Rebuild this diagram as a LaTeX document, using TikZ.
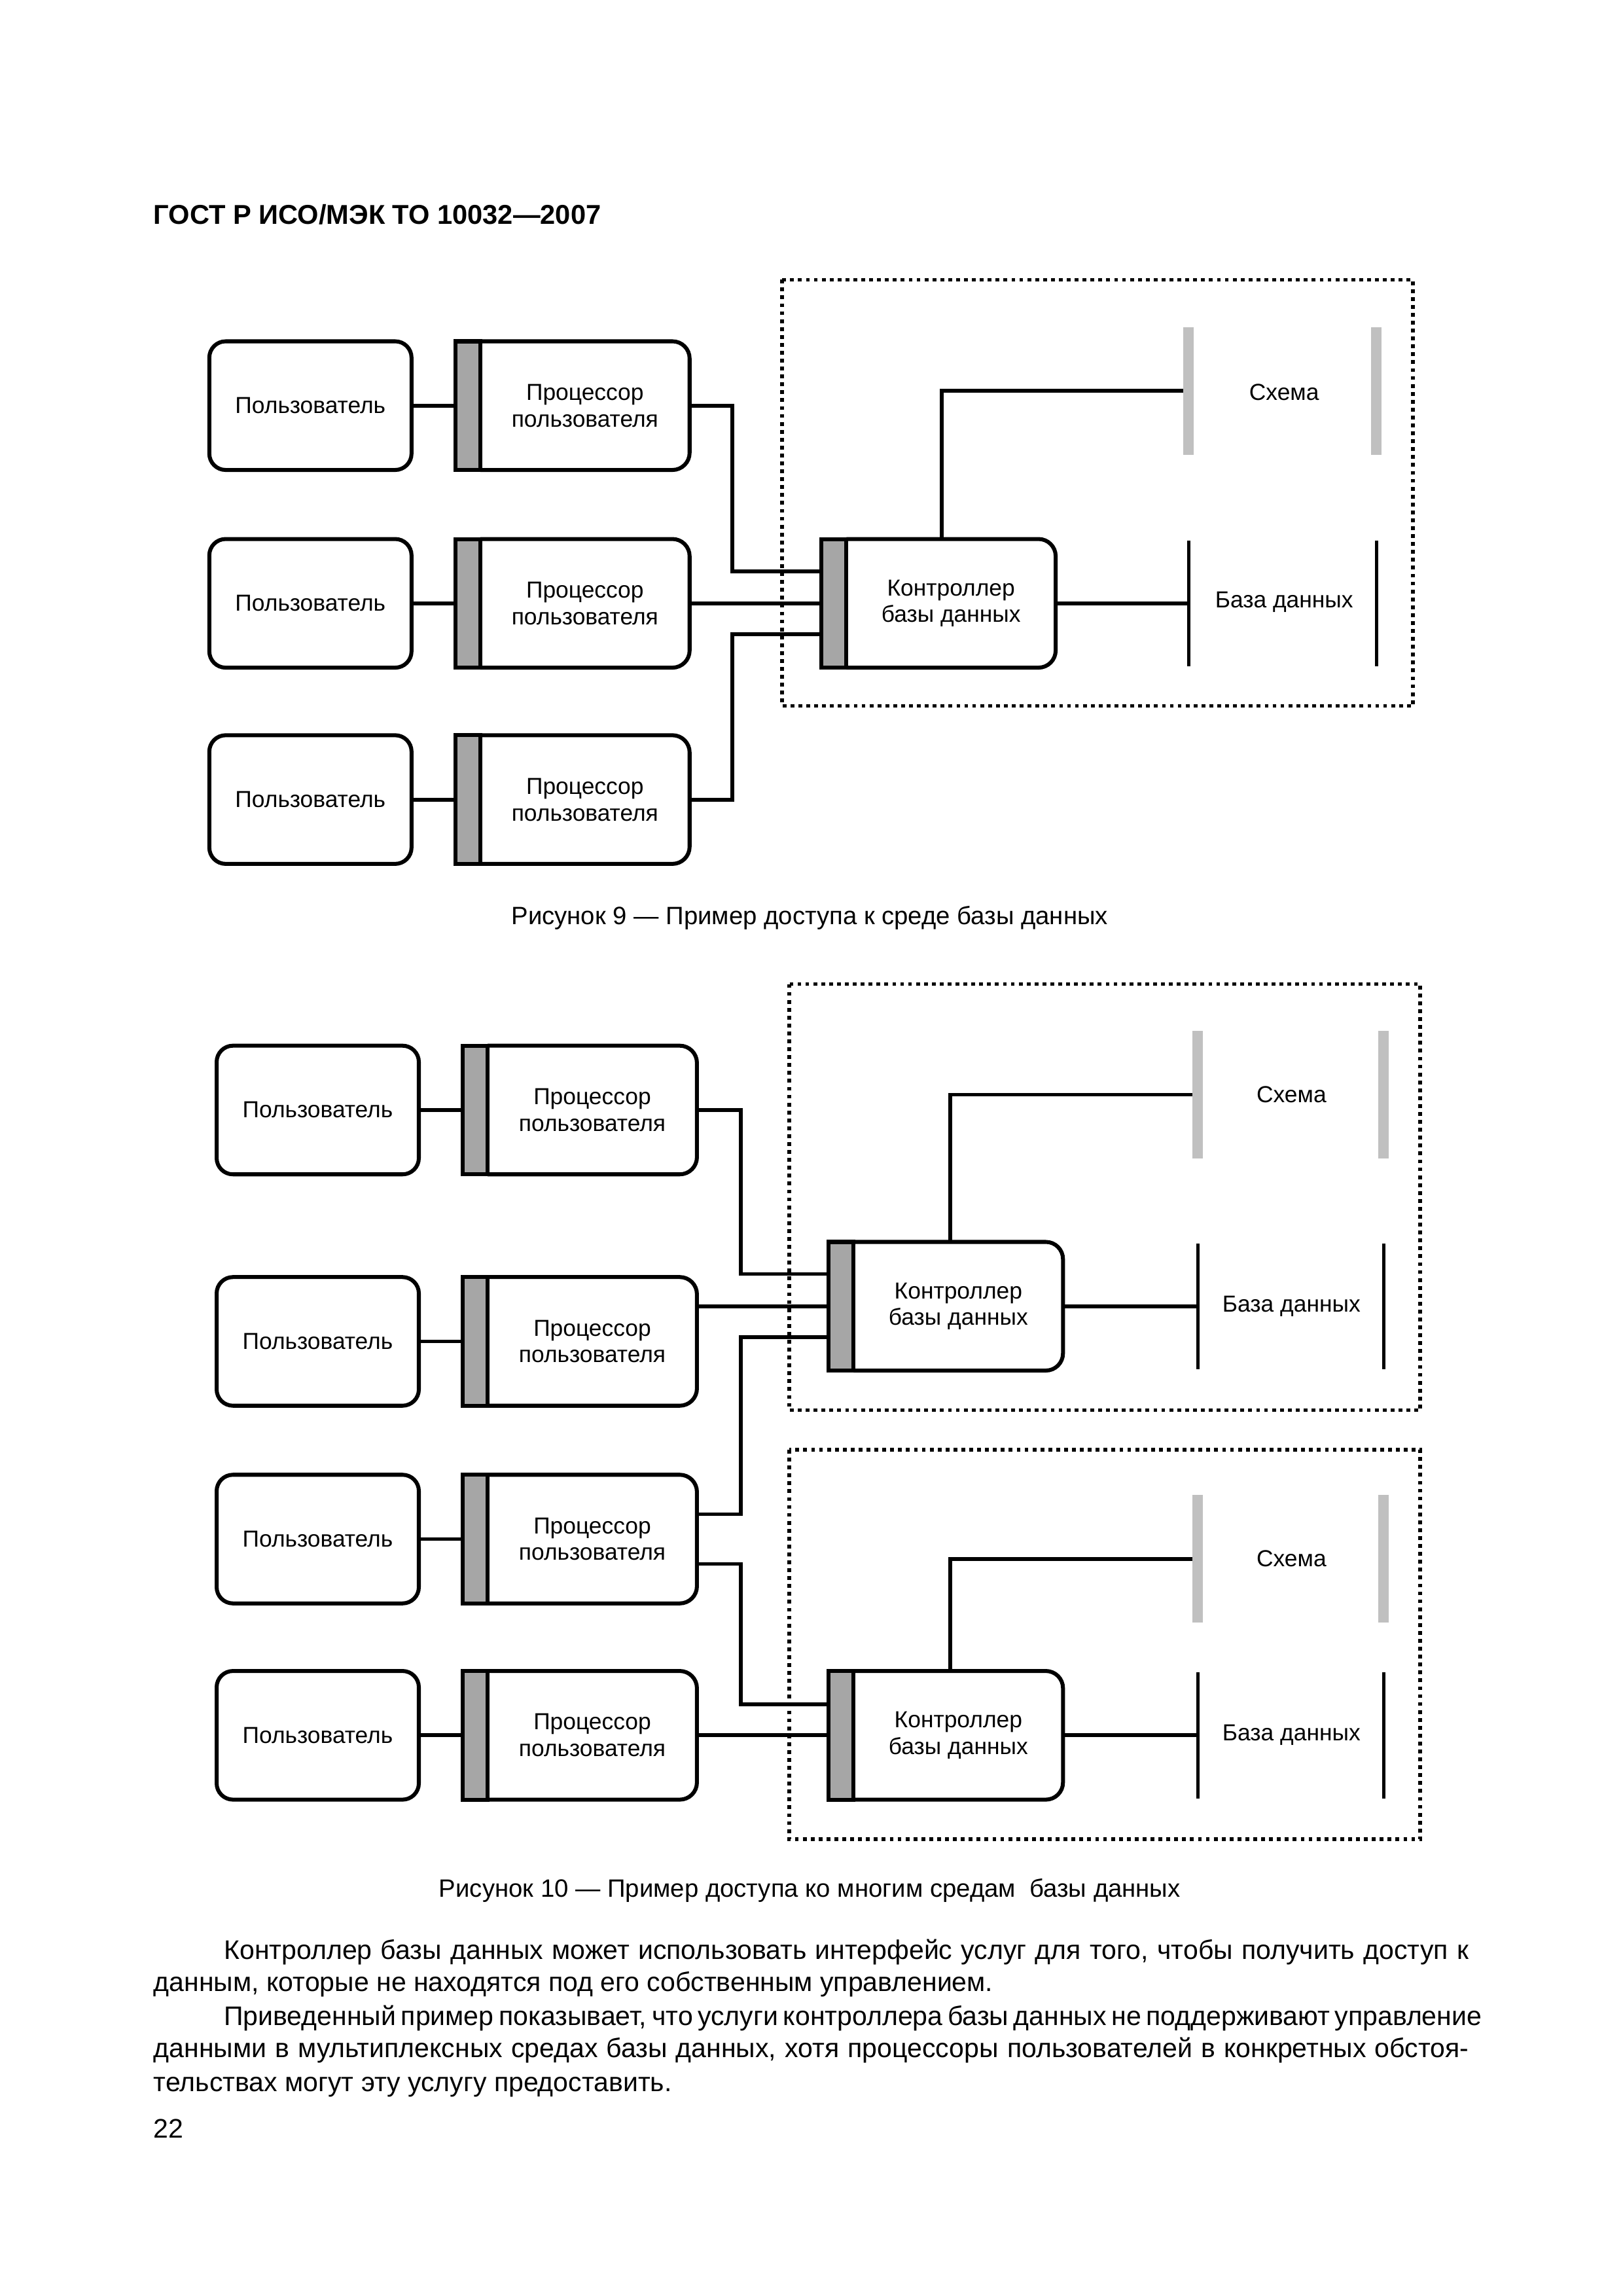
\documentclass[tikz,border=0pt]{standalone}
\usepackage{fontspec}
\setmainfont{Liberation Sans}
\usetikzlibrary{calc}
\definecolor{bargray}{RGB}{166,166,166}
\definecolor{schgray}{RGB}{192,192,192}
\newcommand\lblfont{\fontsize{8.5}{9.8}\selectfont}
\newcommand\capfont{\fontsize{9.2}{11}\selectfont}
\newcommand\bodyfont{\fontsize{9.85}{12}\selectfont}
\newcommand\headfont{\fontsize{10}{12}\selectfont\bfseries}
\begin{document}
\begin{tikzpicture}[x=0.53727pt,y=-0.53727pt,
  every node/.style={inner sep=0pt, outer sep=0pt},
  boxline/.style={line width=1.45pt, rounded corners=6.3pt},
  userbox/.style={draw, line width=1.45pt, rounded corners=6pt, minimum width=74.2pt, minimum height=47.2pt, font=\lblfont},
  barbox/.style={draw, line width=1.45pt, fill=bargray, minimum width=9.1pt, minimum height=47.2pt},
  procbox/.style={minimum width=76.8pt, minimum height=47.2pt, align=center, font=\lblfont},
  conn/.style={line width=1.4pt},
  schbar/.style={fill=schgray, minimum width=3.8pt, minimum height=46.8pt},
  dbbar/.style={fill=black, minimum width=1.2pt, minimum height=46.2pt},
  dotbox/.style={line width=1.35pt, dash pattern=on 1.4pt off 1.5pt},
  lbl/.style={font=\lblfont, align=center}
]
\useasboundingbox (0,0) rectangle (1108.0,1567.9);

% header
\node[anchor=base west, font=\headfont] (head) at (105,153) {ГОСТ Р ИСО/МЭК ТО 10032—2007};

% ================= Figure 9 =================
\draw[dotbox] (534,191) rectangle (965,482);
\foreach \i/\y in {1/277,2/412,3/546}{
  \node[userbox] (a\i) at (212,\y) {Пользователь};
  \node[procbox] (ap\i) at (399.5,\y) {Процессор\\пользователя};
  \draw[boxline] (ap\i.north west) -- (ap\i.north east) -- (ap\i.south east) -- (ap\i.south west);
  \node[barbox] (ab\i) at (319.5,\y) {};
  \draw[conn] (a\i.east) -- (ab\i.west);
}
\node[procbox] (ac) at (649.5,412) {Контроллер\\базы данных};
\draw[boxline] (ac.north west) -- (ac.north east) -- (ac.south east) -- (ac.south west);
\node[barbox] (acb) at (569.5,412) {};
\node[schbar] (as1) at (811.5,267) {};
\node[schbar] (as2) at (940,267) {};
\node[lbl] (ast) at (877,268) {Схема};
\node[dbbar] (ad1) at (812,412) {};
\node[dbbar] (ad2) at (940,412) {};
\node[lbl] (adt) at (877,411) {База данных};
\draw[conn] (ap1.east) -- ++(29,0) |- ($(acb.west)+(0,-22)$);
\draw[conn] (ap2.east) -- (acb.west);
\draw[conn] (ap3.east) -- ++(29,0) |- ($(acb.west)+(0,21)$);
\draw[conn] ($(ac.north west)+(65,0)$) |- (as1.west);
\draw[conn] (ac.east) -- (ad1.west);
\node[font=\capfont] (cap9) at (553,627) {Рисунок 9 — Пример доступа к среде базы данных};

% ================= Figure 10 =================
\draw[dotbox] (539,672) rectangle (970,963);
\draw[dotbox] (539,990) rectangle (970,1256);
\foreach \i/\y in {1/758,2/916,3/1051,4/1185}{
  \node[userbox] (b\i) at (217,\y) {Пользователь};
  \node[procbox] (bp\i) at (404.5,\y) {Процессор\\пользователя};
  \draw[boxline] (bp\i.north west) -- (bp\i.north east) -- (bp\i.south east) -- (bp\i.south west);
  \node[barbox] (bb\i) at (324.5,\y) {};
  \draw[conn] (b\i.east) -- (bb\i.west);
}
\foreach \j/\cy/\sy in {1/892/747.5,2/1185/1064.5}{
  \node[procbox] (bc\j) at (654.5,\cy) {Контроллер\\базы данных};
  \draw[boxline] (bc\j.north west) -- (bc\j.north east) -- (bc\j.south east) -- (bc\j.south west);
  \node[barbox] (bcb\j) at (574.5,\cy) {};
  \node[schbar] (bsl\j) at (818,\sy) {};
  \node[schbar] (bsr\j) at (945,\sy) {};
  \node[lbl] (bst\j) at (882,\sy) {Схема};
  \node[dbbar] (bdl\j) at (818,\cy) {};
  \node[dbbar] (bdr\j) at (945,\cy) {};
  \node[lbl] (bdt\j) at (882,\cy) {База данных};
  \draw[conn] ($(bc\j.north west)+(66,0)$) |- (bsl\j.west);
  \draw[conn] (bc\j.east) -- (bdl\j.west);
}
\draw[conn] (bp1.east) -- ++(30,0) |- ($(bcb1.west)+(0,-22)$);
\draw[conn] ($(bp2.east)+(0,-24)$) -- (bcb1.west);
\draw[conn] ($(bcb1.west)+(0,21)$) -| ($(bp3.east)+(30,-17)$) -- ($(bp3.east)+(0,-17)$);
\draw[conn] ($(bp3.east)+(0,17)$) -- ++(30,0) |- ($(bcb2.west)+(0,-21)$);
\draw[conn] (bp4.east) -- (bcb2.west);
\node[font=\capfont] (cap10) at (553,1291) {Рисунок 10 — Пример доступа ко многим средам~ базы данных};

% ================= Body text =================
\node[anchor=base west, font=\bodyfont] (t1) at (153,1338) {\makebox[456.7pt][s]{Контроллер базы данных может использовать интерфейс услуг для того, чтобы получить доступ к}};
\node[anchor=base west, font=\bodyfont] (t2) at (105,1360) {данным, которые не находятся под его собственным управлением.};
\node[anchor=base west, font=\bodyfont] (t3) at (153,1383) {\makebox[456.7pt][s]{Приведенный пример показывает, что услуги контроллера базы данных не поддерживают управление}};
\node[anchor=base west, font=\bodyfont] (t4) at (105,1405) {\makebox[482.5pt][s]{данными в мультиплексных средах базы данных, хотя процессоры пользователей в конкретных обстоя-}};
\node[anchor=base west, font=\bodyfont] (t5) at (105,1428) {тельствах могут эту услугу предоставить.};
\node[anchor=base west, font=\bodyfont] (pg) at (105,1460) {22};
\end{tikzpicture}
\end{document}
